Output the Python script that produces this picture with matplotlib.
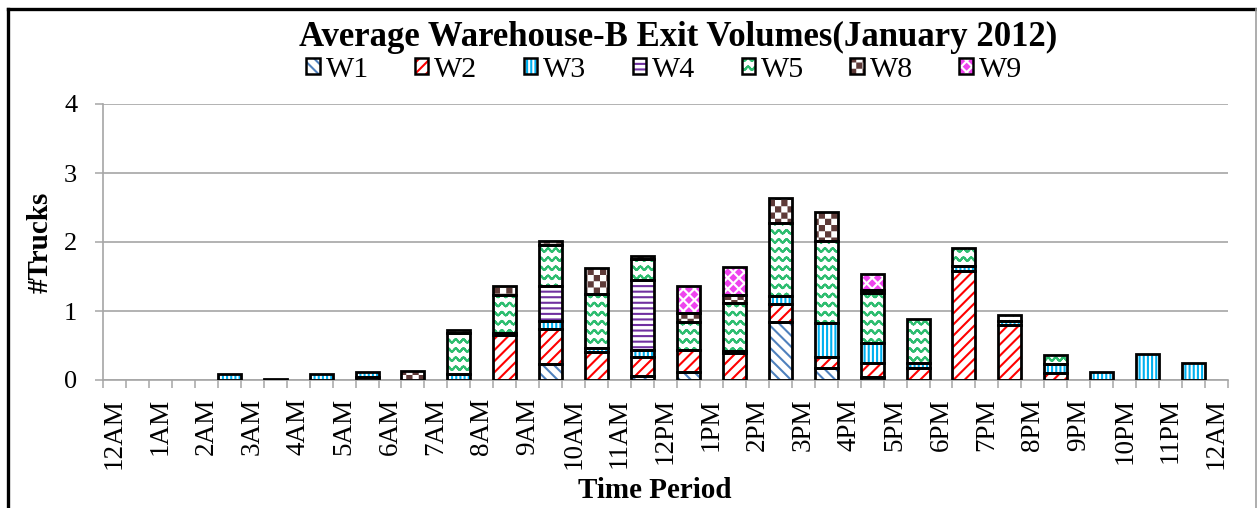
import warnings
warnings.filterwarnings("ignore")
import numpy as np
import matplotlib
matplotlib.use("Agg")
import matplotlib.pyplot as plt
import matplotlib.hatch as mhatch
from matplotlib.path import Path
from matplotlib.patches import Patch
from matplotlib.lines import Line2D

# ---------------- data ----------------
hour_labels = ['12AM', '1AM', '2AM', '3AM', '4AM', '5AM', '6AM', '7AM', '8AM', '9AM',
               '10AM', '11AM', '12PM', '1PM', '2PM', '3PM', '4PM', '5PM', '6PM', '7PM',
               '8PM', '9PM', '10PM', '11PM', '12AM']
series_names = ['W1', 'W2', 'W3', 'W4', 'W5', 'W8', 'W9']
# one value per hour interval (12AM-1AM ... 11PM-12AM)
W1 = [0, 0, 0, 0, 0, 0, 0, 0, 0, 0.23, 0, 0.06, 0.12, 0, 0.84, 0.17, 0.05, 0, 0, 0, 0, 0, 0, 0]
W2 = [0, 0, 0, 0, 0, 0.05, 0, 0, 0.65, 0.51, 0.40, 0.28, 0.31, 0.39, 0.26, 0.17, 0.19, 0.17, 1.58, 0.80, 0.10, 0, 0, 0]
W3 = [0, 0, 0.08, 0.01, 0.08, 0.07, 0, 0.08, 0.03, 0.11, 0.07, 0.09, 0, 0.03, 0.12, 0.48, 0.30, 0.07, 0.07, 0.05, 0.13, 0.12, 0.38, 0.25]
W4 = [0, 0, 0, 0, 0, 0, 0, 0, 0, 0.51, 0, 1.02, 0, 0, 0, 0, 0, 0, 0, 0, 0, 0, 0, 0]
W5 = [0, 0, 0, 0, 0, 0, 0, 0.60, 0.55, 0.60, 0.78, 0.30, 0.41, 0.69, 1.05, 1.19, 0.72, 0.64, 0.26, 0.09, 0.13, 0, 0, 0]
W8 = [0, 0, 0, 0, 0, 0, 0.13, 0.05, 0.13, 0.06, 0.37, 0.05, 0.13, 0.12, 0.37, 0.43, 0.05, 0, 0, 0, 0, 0, 0, 0]
W9 = [0, 0, 0, 0, 0, 0, 0, 0, 0, 0, 0, 0, 0.39, 0.41, 0, 0, 0.22, 0, 0, 0, 0, 0, 0, 0]
series_values = [W1, W2, W3, W4, W5, W8, W9]

colors = ['#4F81BD', '#FF0000', '#00B0F0', '#7030A0', '#2EBD70', '#5E3A38', '#EE44EE']
hatches = ['\\\\\\', '///', '||||', '---', '~', 'C', 'D']

HATCH_LW_PT = 1.5
plt.rcParams['hatch.linewidth'] = HATCH_LW_PT
HALF_STROKE = HATCH_LW_PT / 72.0 / 2.0   # in hatch-unit (1 inch) coordinates


# ---------------- custom hatch patterns ----------------
class WaveHatch(mhatch.HatchPatternBase):
    def __init__(self, hatch, density):
        self.rows = 11 * hatch.count('~')
        self.periods = 13
        self.seg = 8
        self.num_vertices = self.rows * 2 * (self.periods * self.seg + 1)

    def set_vertices_and_codes(self, vertices, codes):
        t = np.linspace(0, 1, self.periods * self.seg + 1)
        yoff = 0.017 * np.sin(2 * np.pi * self.periods * t)
        k = 0
        for r in range(self.rows):
            y0 = (r + 0.5) / self.rows
            xs = np.concatenate([t, t[::-1]])
            ys = np.concatenate([y0 + yoff, (y0 + yoff)[::-1]])
            m = len(xs)
            vertices[k:k + m, 0] = xs
            vertices[k:k + m, 1] = ys
            codes[k] = Path.MOVETO
            codes[k + 1:k + m] = Path.LINETO
            k += m


class CheckerHatch(mhatch.HatchPatternBase):
    def __init__(self, hatch, density):
        self.n = 16 if 'C' in hatch else 0
        self.cells = [(i, j) for i in range(self.n) for j in range(self.n) if (i + j) % 2 == 0]
        self.num_vertices = 5 * len(self.cells)

    def set_vertices_and_codes(self, vertices, codes):
        s = 1.0 / self.n if self.n else 0
        d = HALF_STROKE
        k = 0
        for (i, j) in self.cells:
            x0, y0 = i * s + d, j * s + d
            x1, y1 = (i + 1) * s - d, (j + 1) * s - d
            vertices[k:k + 5] = [(x0, y0), (x1, y0), (x1, y1), (x0, y1), (x0, y0)]
            codes[k] = Path.MOVETO
            codes[k + 1:k + 4] = Path.LINETO
            codes[k + 4] = Path.CLOSEPOLY
            k += 5


class DiamondHatch(mhatch.HatchPatternBase):
    def __init__(self, hatch, density):
        self.n = 9 if 'D' in hatch else 0
        cs = []
        if self.n:
            for i in range(self.n + 1):
                for j in range(self.n + 1):
                    cs.append((i / self.n, j / self.n))
            for i in range(self.n):
                for j in range(self.n):
                    cs.append(((i + 0.5) / self.n, (j + 0.5) / self.n))
        self.centers = cs
        self.num_vertices = 5 * len(cs)

    def set_vertices_and_codes(self, vertices, codes):
        h = 0.36 / self.n - HALF_STROKE * 1.41 if self.n else 0
        k = 0
        for (cx, cy) in self.centers:
            vertices[k:k + 5] = [(cx - h, cy), (cx, cy - h), (cx + h, cy), (cx, cy + h), (cx - h, cy)]
            codes[k] = Path.MOVETO
            codes[k + 1:k + 4] = Path.LINETO
            codes[k + 4] = Path.CLOSEPOLY
            k += 5


mhatch._hatch_types.extend([WaveHatch, CheckerHatch, DiamondHatch])

# ---------------- figure ----------------
plt.rcParams['font.family'] = ['Liberation Serif', 'DejaVu Serif']
W, H = 1257, 508
fig = plt.figure(figsize=(W / 100, H / 100), dpi=100)
ax = fig.add_axes([103 / W, 128 / H, 1125 / W, 276 / H])

xpos = np.arange(len(W1)) * 2 + 1
bottom = np.zeros(len(W1))
legend_handles = []
for vals, name, col, hat in zip(series_values, series_names, colors, hatches):
    v = np.array(vals, dtype=float)
    m = v > 0
    ax.bar(xpos[m], v[m], bottom=bottom[m], width=1.0, color='white',
           edgecolor=col, hatch=hat, linewidth=0, zorder=2)
    ax.bar(xpos[m], v[m], bottom=bottom[m], width=1.0, fill=False,
           edgecolor='black', linewidth=2.0, zorder=3)
    bottom = bottom + v
    ph = Patch(facecolor='white', edgecolor=col, hatch=hat, linewidth=0)
    po = Patch(fill=False, edgecolor='black', linewidth=1.8)
    legend_handles.append((ph, po))

grey = '#A6A6A6'
ax.set_xlim(-0.5, 48.5)
ax.set_ylim(0, 4)
ax.set_yticks([0, 1, 2, 3, 4])
ax.set_yticklabels(['0', '1', '2', '3', '4'])
ax.yaxis.grid(True, color=grey, linewidth=1.2, zorder=0)
ax.set_axisbelow(True)
for s in ['top', 'right']:
    ax.spines[s].set_visible(False)
for s in ['left', 'bottom']:
    ax.spines[s].set_color(grey)
    ax.spines[s].set_linewidth(1.2)

ax.set_xticks(np.arange(0, 49, 2))
ax.set_xticklabels(hour_labels, rotation=90)
ax.set_xticks(np.arange(-0.5, 49, 1), minor=True)
ax.tick_params(axis='x', which='major', length=0, pad=13, labelsize=19.5)
ax.tick_params(axis='x', which='minor', length=6, width=1.1, color=grey)
ax.tick_params(axis='y', which='major', length=5.5, width=1.1, color=grey, pad=13, labelsize=19)

fig.text(678 / W, 1 - 37 / H, 'Average Warehouse-B Exit Volumes(January 2012)',
         ha='center', va='center', fontsize=25, fontweight='bold')
fig.text(40 / W, 1 - 242 / H, '#Trucks', rotation=90, ha='center', va='center',
         fontsize=21, fontweight='bold')
fig.text(655 / W, 1 - 491 / H, 'Time Period', ha='center', va='center',
         fontsize=21, fontweight='bold')

fig.legend(legend_handles, series_names, loc='center', ncol=7,
           bbox_to_anchor=(664 / W, 1 - 70 / H), frameon=False, fontsize=21.5,
           handlelength=0.45, handleheight=0.45, handletextpad=0.2,
           columnspacing=1.55, borderpad=0.1)

# outer frame
fig.add_artist(Line2D([7.5 / W, 7.5 / W], [0, 1 - 8.5 / H], transform=fig.transFigure,
                      color='black', linewidth=2.4))
fig.add_artist(Line2D([7.5 / W, 1256 / W], [1 - 8.5 / H, 1 - 8.5 / H], transform=fig.transFigure,
                      color='black', linewidth=2.4))
fig.add_artist(Line2D([1255.5 / W, 1255.5 / W], [0, 1 - 8.5 / H], transform=fig.transFigure,
                      color='#A0A0A0', linewidth=1.2))

fig.savefig('out.png', dpi=100)
